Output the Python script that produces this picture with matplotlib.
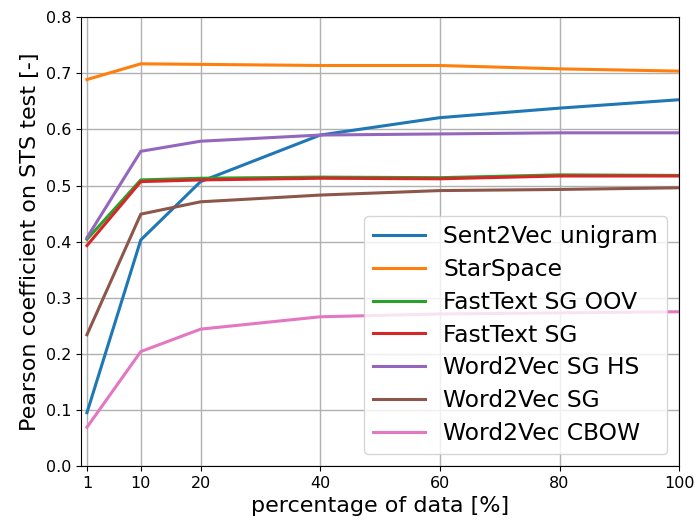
import numpy as np
import matplotlib
matplotlib.use('Agg')
import matplotlib.pyplot as plt

# percentage of training data used
percent = [1, 10, 20, 40, 60, 80, 100]

sent2vec_unigram = [0.095, 0.403, 0.507, 0.590, 0.621, 0.638, 0.653]
starspace = [0.689, 0.717, 0.716, 0.714, 0.714, 0.708, 0.704]
fasttext_sg_oov = [0.404, 0.510, 0.513, 0.515, 0.514, 0.519, 0.518]
fasttext_sg = [0.393, 0.507, 0.510, 0.513, 0.512, 0.517, 0.517]
word2vec_sg_hs = [0.407, 0.561, 0.579, 0.590, 0.592, 0.594, 0.594]
word2vec_sg = [0.234, 0.449, 0.471, 0.483, 0.491, 0.493, 0.496]
word2vec_cbow = [0.069, 0.204, 0.244, 0.266, 0.271, 0.273, 0.275]

labels = ['Sent2Vec unigram', 'StarSpace', 'FastText SG OOV', 'FastText SG',
          'Word2Vec SG HS', 'Word2Vec SG', 'Word2Vec CBOW']
series = [sent2vec_unigram, starspace, fasttext_sg_oov, fasttext_sg,
          word2vec_sg_hs, word2vec_sg, word2vec_cbow]

fig = plt.figure(figsize=(6.98, 5.23), dpi=100)
ax = fig.add_axes([0.116, 0.109, 0.857, 0.858])

for values, label in zip(series, labels):
    ax.plot(percent, values, linewidth=2.2, label=label)

ax.set_xlim(0, 100)
ax.set_ylim(0, 0.8)
ax.set_xticks(percent)
ax.set_yticks(np.arange(0, 0.81, 0.1))
ax.tick_params(labelsize=11.5)
ax.grid(True, color='#b0b0b0', linewidth=1)

ax.set_xlabel('percentage of data [%]', fontsize=16)
ax.set_ylabel('Pearson coefficient on STS test [-]', fontsize=16)
ax.legend(loc='lower right', fontsize=16.8, handlelength=2.2, labelspacing=0.42)

fig.savefig('out.png', dpi=100)
